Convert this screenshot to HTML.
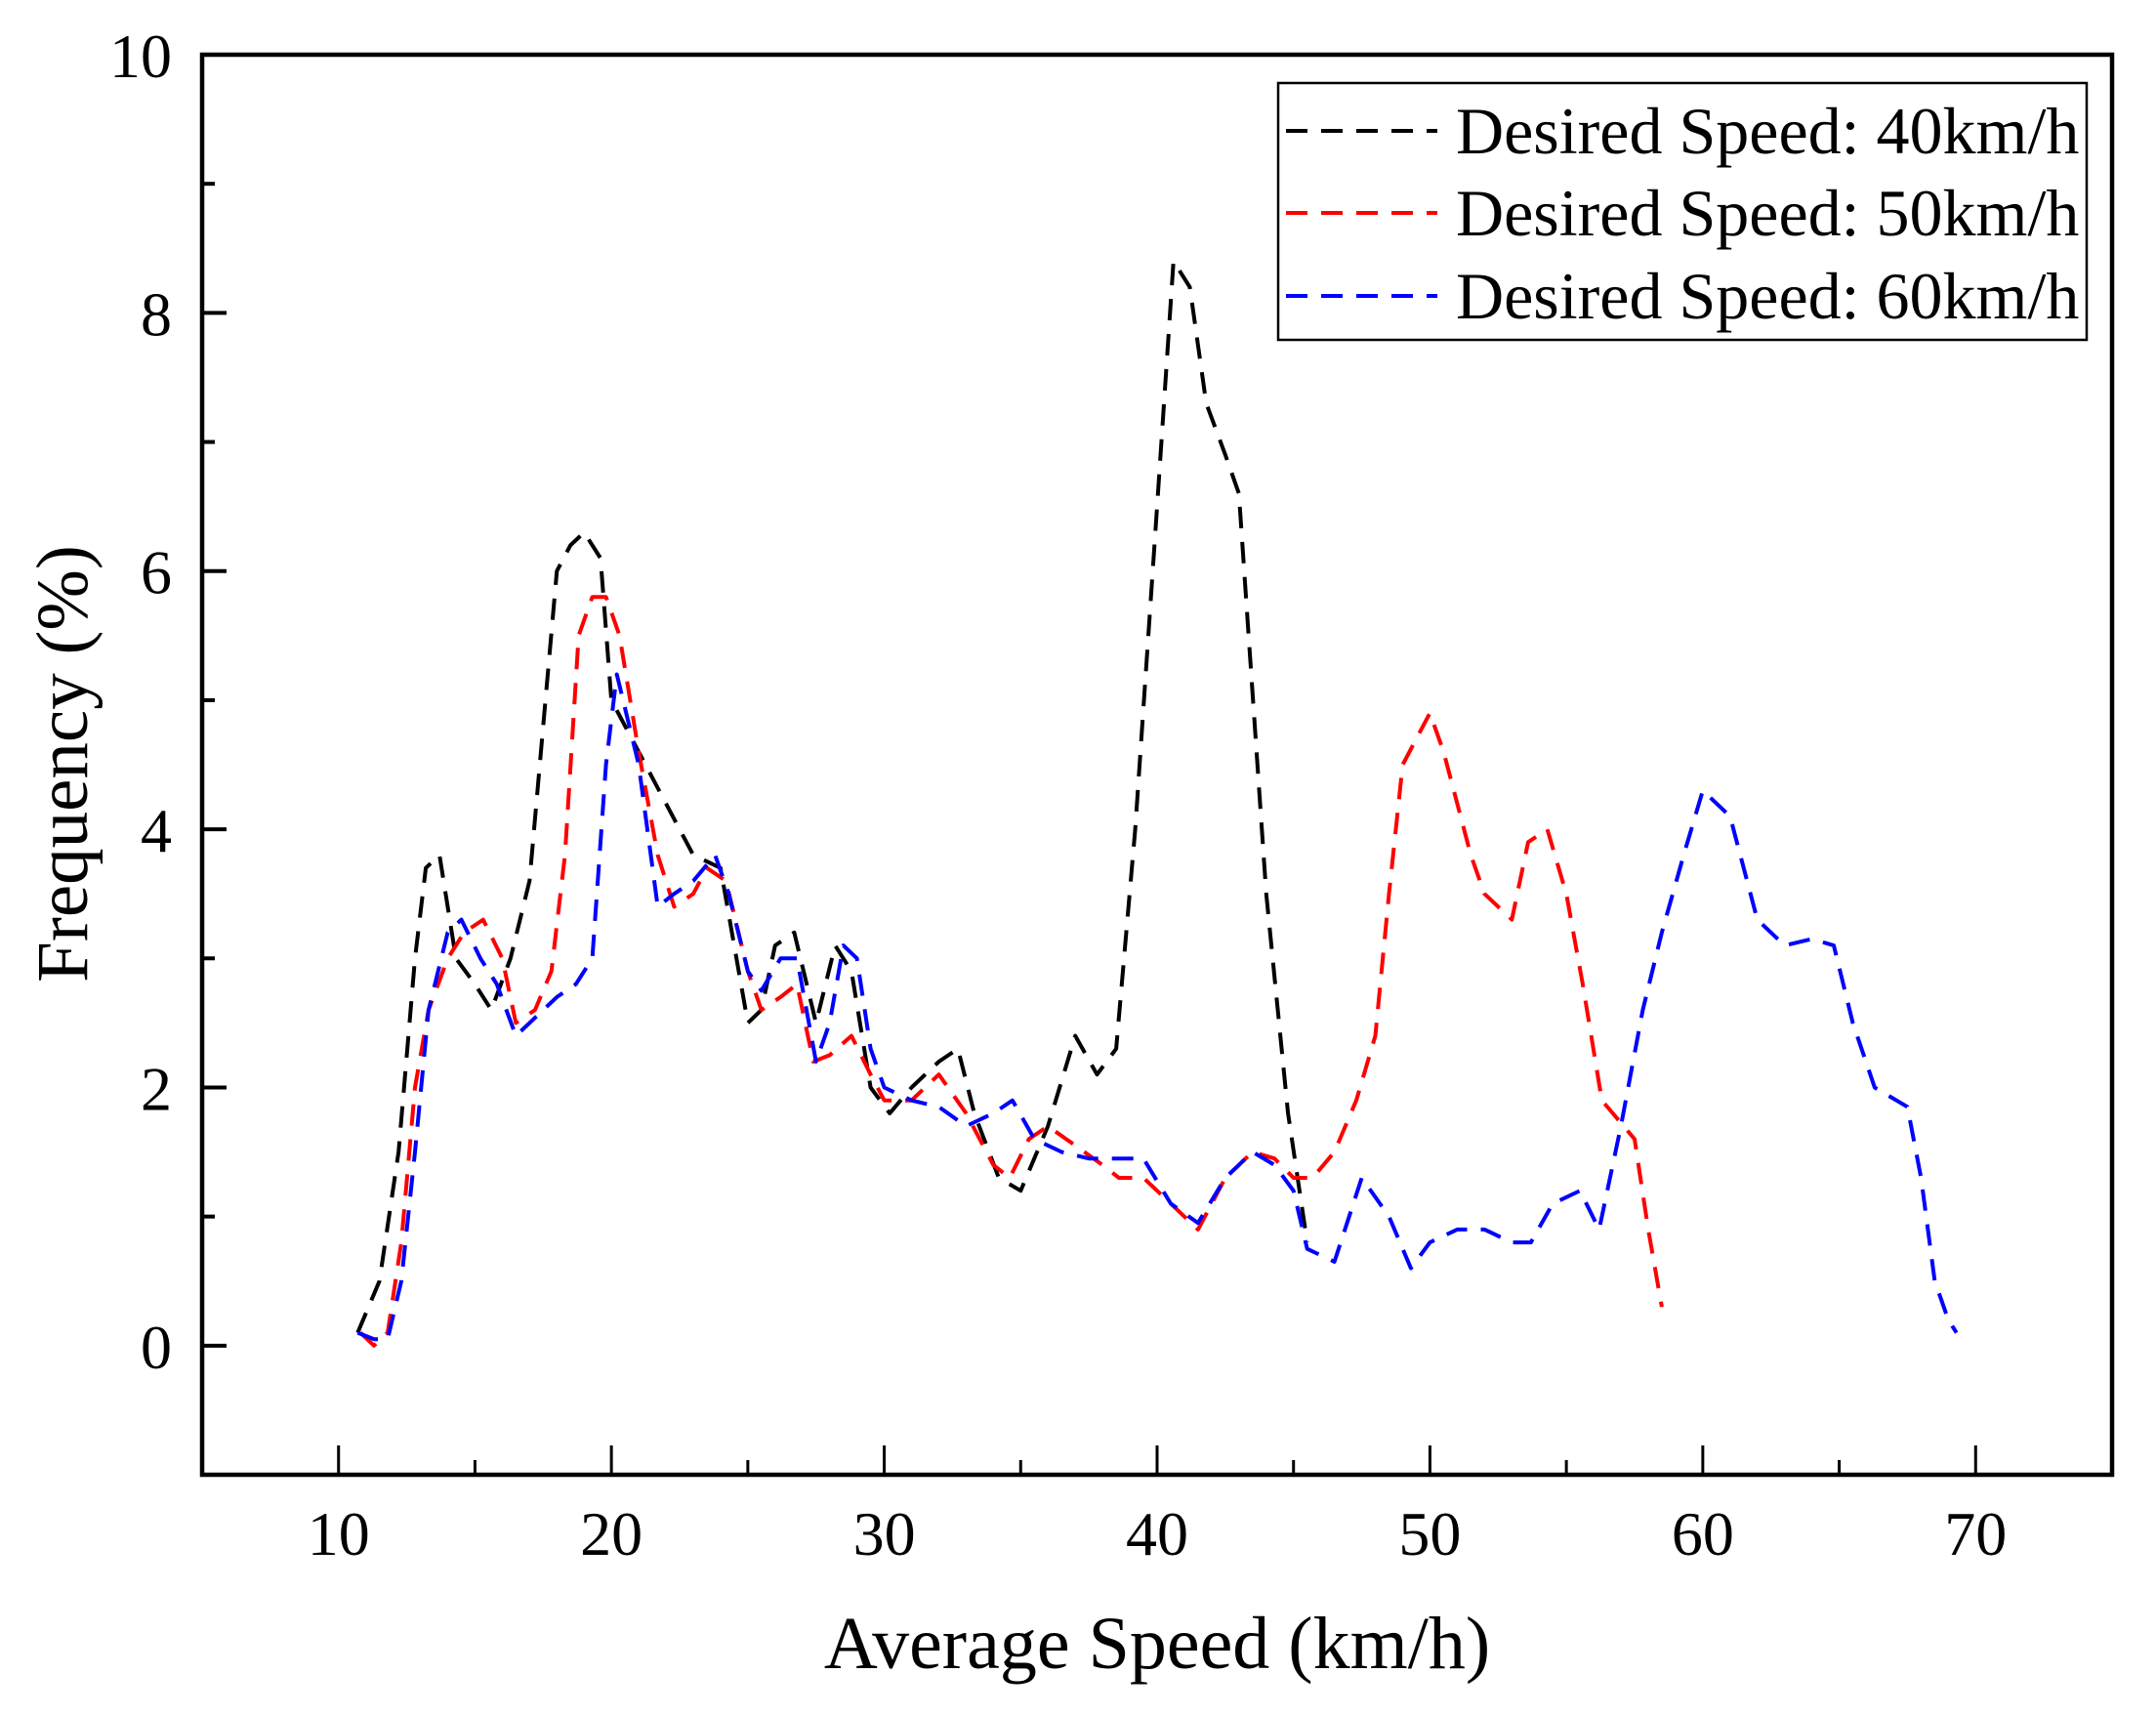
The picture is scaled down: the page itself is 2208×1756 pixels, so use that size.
<!DOCTYPE html>
<html><head><meta charset="utf-8"><style>
html,body{margin:0;padding:0;background:#fff}
svg{display:block;font-family:"Liberation Serif",serif}
</style></head><body>
<svg id="chart" width="2208" height="1756" viewBox="0 0 2208 1756" xmlns="http://www.w3.org/2000/svg">
<g id="axes"></g>
<g id="series"></g>
<rect x="207" y="56" width="1956" height="1454" fill="none" stroke="#000" stroke-width="4.5"/>
<g>
<rect x="1309" y="85" width="828" height="263" fill="#fff" stroke="#000" stroke-width="2.5"/>
<line x1="1317" y1="134" x2="1472" y2="134" stroke="#000" stroke-width="4" stroke-dasharray="22,14"/>
<text x="1491" y="157" font-size="68">Desired Speed: 40km/h</text>
<line x1="1317" y1="218" x2="1472" y2="218" stroke="#ff0000" stroke-width="4" stroke-dasharray="22,14"/>
<text x="1491" y="241" font-size="68">Desired Speed: 50km/h</text>
<line x1="1317" y1="303" x2="1472" y2="303" stroke="#0000ff" stroke-width="4" stroke-dasharray="22,14"/>
<text x="1491" y="326" font-size="68">Desired Speed: 60km/h</text>
</g>
<text x="1185" y="1708" font-size="76" text-anchor="middle">Average Speed (km/h)</text>
<text transform="translate(89,782) rotate(-90)" font-size="75" text-anchor="middle">Frequency (%)</text>
</svg>
<script>
const xTicks=[10,20,30,40,50,60,70];
const yTicks=[0,2,4,6,8,10];
const s40x=[10.7,11.5,12.2,12.8,13.2,13.7,14.3,15,15.6,16.3,17,17.5,18,18.5,19,19.6,20,20.5,21,22,23,24,25,25.5,26,26.7,27.5,28.2,28.8,29.5,30.2,31,32,32.7,33.3,34.2,35,36,37,37.8,38.5,39.2,40,40.6,41.2,41.8,42.5,43,44,44.8,45.5];
const s40y=[0.1,0.5,1.5,3.0,3.7,3.8,3.0,2.8,2.6,3.0,3.6,4.8,6.0,6.2,6.3,6.1,5.0,4.8,4.6,4.2,3.8,3.7,2.5,2.6,3.1,3.2,2.5,3.1,2.9,2.0,1.8,2.0,2.2,2.3,1.8,1.3,1.2,1.7,2.4,2.1,2.3,4.0,6.5,8.4,8.2,7.3,6.9,6.6,3.5,1.8,0.8];
const s50x=[10.8,11.3,11.8,12.3,12.8,13.3,14,14.6,15.3,16,16.5,17.2,17.8,18.3,18.8,19.3,19.8,20.3,21,21.7,22.3,23,23.5,24.2,25,25.5,26.2,26.8,27.4,28,28.8,29.5,30,31,32,33,34,34.6,35.3,36,37,38,38.6,39.5,40.5,41.5,42.5,43.5,44.3,45,45.7,46.5,47.3,48,48.5,49,50,50.5,51.5,52,53,53.6,54.3,55,55.6,56.3,57.5,58,58.5];
const s50y=[0.1,0,0.1,0.8,2.0,2.6,3.0,3.2,3.3,3.0,2.5,2.6,2.9,3.8,5.5,5.8,5.8,5.5,4.6,3.8,3.4,3.5,3.7,3.6,2.9,2.6,2.7,2.8,2.2,2.25,2.4,2.1,1.9,1.9,2.1,1.8,1.4,1.3,1.6,1.7,1.55,1.4,1.3,1.3,1.1,0.9,1.3,1.5,1.45,1.3,1.3,1.5,1.9,2.4,3.5,4.5,4.9,4.6,3.8,3.5,3.3,3.9,4.0,3.5,2.8,1.9,1.6,0.9,0.3];
const s60x=[10.7,11.3,11.8,12.3,12.8,13.3,14,14.5,15.2,15.8,16.5,17,18,18.7,19.3,19.8,20.2,21,21.7,22.3,23,23.8,24.3,25,25.5,26.2,26.8,27.5,28,28.5,29,29.5,30,31,32,33,34,34.7,35.5,36.5,37.5,38.5,39.5,40.5,41.5,42.5,43.5,44.3,45,45.5,46.5,47.5,48.5,49.3,50,51,52,53,53.7,54.5,55.5,56.2,57,57.8,58.5,59.3,60,61,62,63,64,64.8,65.5,66.3,67.5,68,68.5,69,69.3];
const s60y=[0.1,0.05,0.05,0.5,1.5,2.6,3.2,3.3,3.0,2.8,2.4,2.5,2.7,2.8,3.0,4.5,5.2,4.5,3.4,3.5,3.6,3.8,3.5,2.9,2.75,3.0,3.0,2.2,2.5,3.1,3.0,2.3,2.0,1.9,1.85,1.7,1.8,1.9,1.6,1.5,1.45,1.45,1.45,1.1,0.95,1.3,1.5,1.4,1.2,0.75,0.65,1.3,1.0,0.6,0.8,0.9,0.9,0.8,0.8,1.1,1.2,0.9,1.7,2.6,3.2,3.8,4.3,4.1,3.3,3.1,3.15,3.1,2.5,2.0,1.85,1.3,0.5,0.2,0.1];

const NS='http://www.w3.org/2000/svg';
const X0=207,X1=2163,Y0=1510,Y1=56,xMin=5,xMax=75,yMin=-1,yMax=10;
function sx(v){return X0+(v-xMin)/(xMax-xMin)*(X1-X0);}
function sy(v){return Y0-(v-yMin)/(yMax-yMin)*(Y0-Y1);}
const axes=document.getElementById('axes');
function mk(tag,attrs,parent){const e=document.createElementNS(NS,tag);for(const k in attrs)e.setAttribute(k,attrs[k]);parent.appendChild(e);return e;}
xTicks.forEach(v=>{
  const t=mk('line',{x1:sx(v),x2:sx(v),y1:Y0,y2:Y0-30,stroke:'#000','stroke-width':3},axes);
  
  
  const m=mk('line',{x1:sx(v+5),x2:sx(v+5),y1:Y0,y2:Y0-15,stroke:'#000','stroke-width':3},axes);
  
  
  const l=mk('text',{x:sx(v),y:1592,'font-size':64,'text-anchor':'middle'},axes);
  l.textContent=v;
  
  
});
yTicks.forEach(v=>{
  const t=mk('line',{x1:X0,x2:X0+25,y1:sy(v),y2:sy(v),stroke:'#000','stroke-width':4},axes);
  
  
  if(v<10){const m=mk('line',{x1:X0,x2:X0+13,y1:sy(v+1),y2:sy(v+1),stroke:'#000','stroke-width':4},axes);
  
  }
  const l=mk('text',{x:176,y:sy(v)+23,'font-size':64,'text-anchor':'end'},axes);
  l.textContent=v;
  
  
});
const sg=document.getElementById('series');
function line(xs,ys,color,name){
  const d=xs.map((x,i)=>(i?'L':'M')+sx(x).toFixed(1)+','+sy(ys[i]).toFixed(1)).join(' ');
  const p=mk('path',{d:d,fill:'none',stroke:color,'stroke-width':4,'stroke-dasharray':'22,14','stroke-linejoin':'round'},sg);
  
  
}
line(s40x,s40y,'#000','series-40kmh');
line(s50x,s50y,'#ff0000','series-50kmh');
line(s60x,s60y,'#0000ff','series-60kmh');
</script>
</body></html>
